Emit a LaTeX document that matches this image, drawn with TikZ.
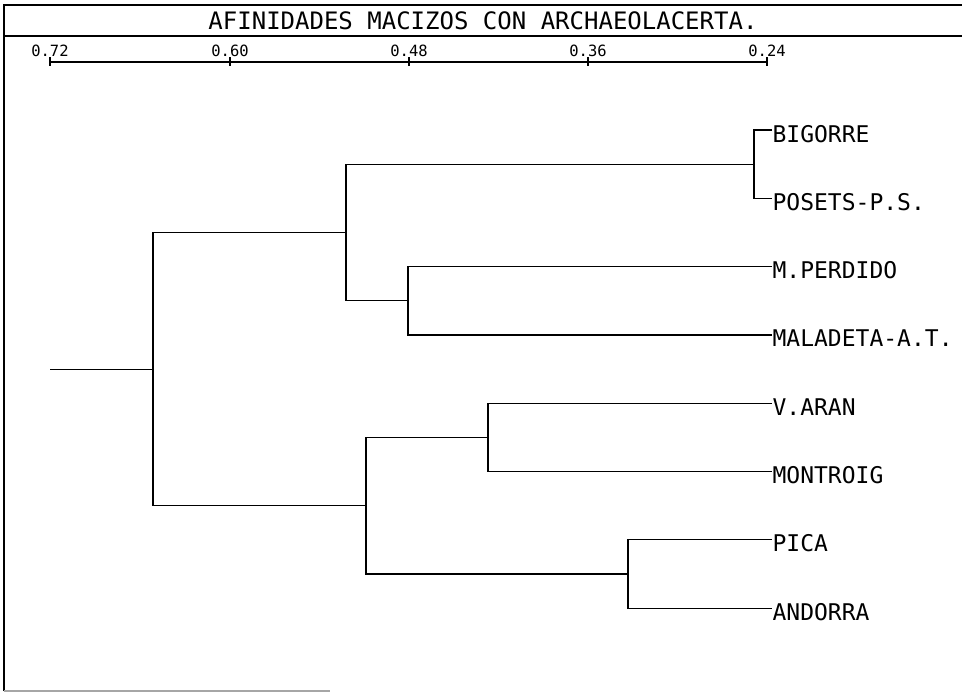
\documentclass[tikz,border=0pt]{standalone}
\usepackage{fontspec}
\newfontfamily\plotter{DejaVu Sans Mono}

\begin{document}
\begin{tikzpicture}[x=1pt,y=-1pt,line width=1.2pt]
\tikzstyle{every node}=[inner sep=0pt];
\tikzstyle{leaf}=[anchor=west,text height=24pt,text depth=0pt,font=\plotter\fontsize{23}{24}\selectfont]
\tikzstyle{scalelabel}=[text height=11pt,text depth=0pt,font=\plotter\fontsize{15.5}{17}\selectfont]
\useasboundingbox (0,0) rectangle (962,694);
% frame
\draw[line width=1.6pt] (4,691) -- (4,5) -- (962,5);
\draw[line width=1.6pt] (4,36) -- (962,36);
\draw[gray!70] (4,691) -- (330,691);
\node[text height=17.5pt,text depth=0pt,font=\plotter\fontsize{24}{26}\selectfont] (title) at (483,21) {AFINIDADES MACIZOS CON ARCHAEOLACERTA.};
% scale
\foreach \v/\x in {72/50,60/230,48/409,36/588,24/767}{
  \coordinate (t\v) at (\x,62);
  \draw (t\v) ++(0,-5) -- ++(0,9);
  \node[scalelabel] (v\v) at (\x,50.5) {0.\v};
}
\draw (t72) -- (t24);
% leaves
\node[leaf] (bigorre) at (772,130) {BIGORRE};
\node[leaf] (posets) at (772,198.3) {POSETS-P.S.};
\node[leaf] (perdido) at (772,266.6) {M.PERDIDO};
\node[leaf] (maladeta) at (772,334.9) {MALADETA-A.T.};
\node[leaf] (aran) at (772,403.2) {V.ARAN};
\node[leaf] (montroig) at (772,471.5) {MONTROIG};
\node[leaf] (pica) at (772,539.8) {PICA};
\node[leaf] (andorra) at (772,608.1) {ANDORRA};
% joins
\coordinate (bp) at (754,164.2);
\coordinate (mm) at (408,300.8);
\coordinate (up) at (346,232.5);
\coordinate (va) at (488,437.4);
\coordinate (pa) at (628,574);
\coordinate (lo) at (366,505.7);
\coordinate (rt) at (153,369.1);
\coordinate (r0) at (50,369.1);
\draw (bigorre.west) -| (bp) |- (posets.west);
\draw (perdido.west) -| (mm) |- (maladeta.west);
\draw (bp) -| (up) |- (mm);
\draw (aran.west) -| (va) |- (montroig.west);
\draw (pica.west) -| (pa) |- (andorra.west);
\draw (va) -| (lo) |- (pa);
\draw (up) -| (rt) |- (lo);
\draw (r0) -- (rt); % root
\end{tikzpicture}
\end{document}
